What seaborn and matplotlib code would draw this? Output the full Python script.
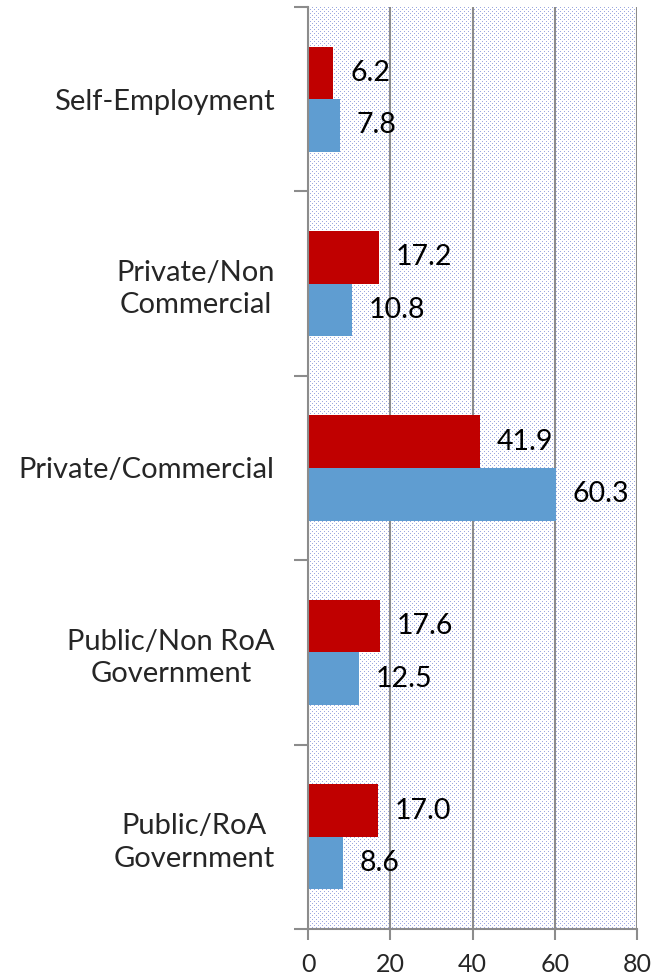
import numpy as np
import pandas as pd
import matplotlib
matplotlib.use('Agg')
import matplotlib.pyplot as plt
import seaborn as sns

# -------------------------------
# data
# -------------------------------
categories = ['Self-Employment', 'Private/Non\nCommercial', 'Private/Commercial',
              'Public/Non RoA\nGovernment', 'Public/RoA\nGovernment']
series_names = ['A', 'B']
red_vals = [6.2, 17.2, 41.9, 17.6, 17.0]
blue_vals = [7.8, 10.8, 60.3, 12.5, 8.6]
x_ticks = [0, 20, 40, 60, 80]

df = pd.DataFrame({
    'category': categories * 2,
    'series': [series_names[0]] * len(categories) + [series_names[1]] * len(categories),
    'value': red_vals + blue_vals,
})

sns.set_style('white')
plt.rcParams['font.family'] = ['Lato', 'DejaVu Sans']

W, H = 652, 975
x0, x1, y0, y1 = 308, 637, 7, 929
fig = plt.figure(figsize=(W / 100, H / 100), dpi=100)
ax = fig.add_axes([x0 / W, 1 - y1 / H, (x1 - x0) / W, (y1 - y0) / H])

# dotted plot-area background (staggered small dots, like the Excel pattern fill)
ph, pw = y1 - y0, x1 - x0
yy, xx = np.indices((ph, pw))
dots = ((xx % 4 == 0) & (yy % 4 == 0)) | ((xx % 4 == 2) & (yy % 4 == 2))
pattern = np.ones((ph, pw, 3))
pattern[dots] = np.array([0x9c, 0xa8, 0xe0]) / 255
ax.imshow(pattern, extent=(0, 1, 0, 1), transform=ax.transAxes, aspect='auto',
          interpolation='nearest', zorder=0)

sns.barplot(data=df, y='category', x='value', hue='series', orient='h',
            palette=['#C00000', '#5F9DD1'], width=0.57, gap=0, linewidth=0,
            legend=False, ax=ax, zorder=2, saturation=1)

# value labels
for cont in ax.containers:
    ax.bar_label(cont, fmt='%.1f', padding=12, fontsize=20.5, color='black')

ax.set_xlim(0, 80)
ax.set_ylim(len(categories) - 0.5, -0.5)
ax.set_xticks(x_ticks)
ax.set_xlabel('')
ax.set_ylabel('')

# gridlines
ax.set_axisbelow(True)
ax.xaxis.grid(True, color='#8c8c8c', lw=1.5, zorder=1)
ax.yaxis.grid(False)

# y axis: labels at centers, tick marks on category boundaries
ax.set_yticks(np.arange(len(categories)))
ax.set_yticklabels(categories, multialignment='center', fontsize=21, linespacing=1.3)
ax.tick_params(axis='y', which='major', length=0, pad=24)
ax.set_yticks(np.arange(len(categories) + 1) - 0.5, minor=True)
ax.tick_params(axis='y', which='minor', length=10, width=1.5, color='#8c8c8c', left=True)

ax.tick_params(axis='x', which='major', length=8, width=1.5, color='#8c8c8c',
               labelsize=18, pad=9, bottom=True)

for s in ['top', 'right']:
    ax.spines[s].set_visible(False)
for s in ['left', 'bottom']:
    ax.spines[s].set_color('#8c8c8c')
    ax.spines[s].set_linewidth(1.5)
    ax.spines[s].set_zorder(3)

fig.savefig('out.png', dpi=100)
